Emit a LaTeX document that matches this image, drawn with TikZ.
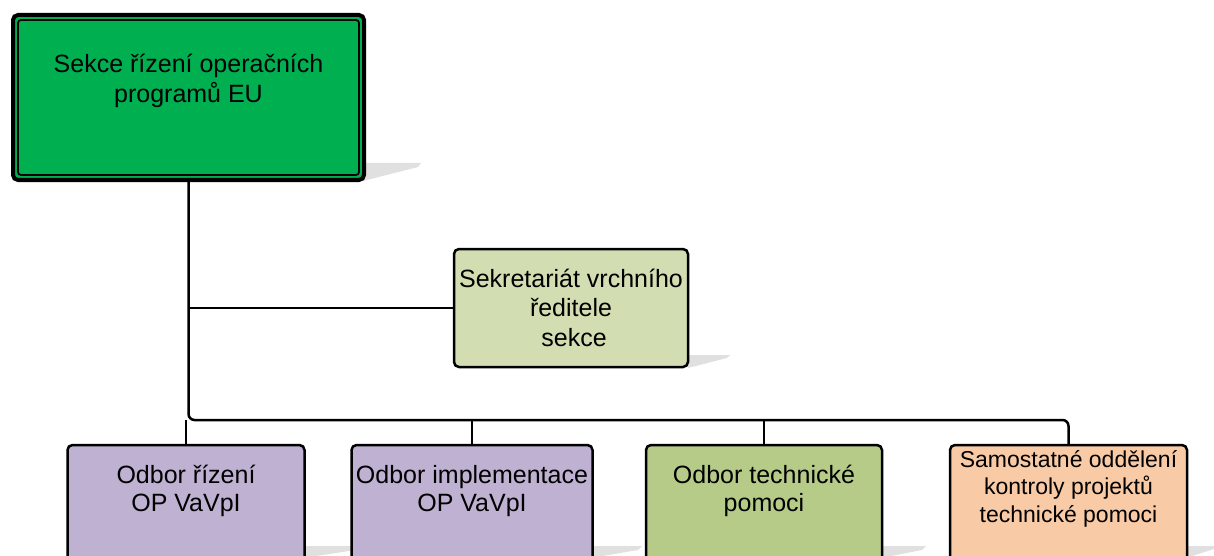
\documentclass[tikz,border=0pt]{standalone}
\usepackage{fontspec}
\setmainfont{Liberation Sans}
\definecolor{topgreen}{HTML}{00B050}
\definecolor{secgreen}{HTML}{D2DEB2}
\definecolor{purp}{HTML}{BFB1D2}
\definecolor{olive}{HTML}{B6CB88}
\definecolor{peach}{HTML}{F9CAA6}
\begin{document}
\begin{tikzpicture}[x=1pt,y=-1pt,
  box/.style={draw=black, line width=2.5pt, rounded corners=5pt, inner sep=0pt, outer sep=0pt},
  txt/.style={align=center, inner sep=0pt, outer sep=0pt, anchor=north},
  fbig/.style={font=\fontsize{25}{29}\selectfont},
  shadowc/.style={fill=black!12, draw=none},
  wire/.style={line width=2.5pt, black},
  drop/.style={line width=2pt, black}]
\useasboundingbox (0,0) rectangle (1214,556);
\clip (0,0) rectangle (1214,556);
% shadows
\fill[shadowc] (363,163) -- (421,163) -- (418,167) -- (363,181) -- cycle;
\fill[shadowc] (688,355) -- (730,355) -- (727,358) -- (688,368) -- cycle;
\fill[shadowc] (303,546) -- (360,546) -- (356,550) -- (303,558) -- cycle;
\fill[shadowc] (591,546) -- (642,546) -- (638,550) -- (591,558) -- cycle;
\fill[shadowc] (881,546) -- (926,546) -- (922,550) -- (881,558) -- cycle;
\fill[shadowc] (1186,546) -- (1214,546) -- (1214,549) -- (1186,558) -- cycle;
% top box
\node[box, fill=topgreen, line width=4pt, minimum width=351pt, minimum height=165pt] (top) at (188.5,97.5) {};
\draw[line width=1.8pt, rounded corners=3pt] ([shift={(5,5)}]top.north west) rectangle ([shift={(-5,-5)}]top.south east);
\node[txt, font=\fontsize{25}{30}\selectfont] (toptxt) at (188.5,53) {\rule{0pt}{20pt}Sekce řízení operačních\\programů EU};
% secretariat
\node[box, fill=secgreen, minimum width=234pt, minimum height=118pt] (sec) at (571,308) {};
\node[txt, font=\fontsize{25}{29.5}\selectfont] (sectxt) at (571,267) {\rule{0pt}{20pt}Sekretariát vrchního\\ředitele\\\hspace*{6pt}sekce};
% bottom boxes
\node[box, fill=purp, minimum width=237pt, minimum height=180pt, anchor=north] (b1) at (186,445) {};
\node[box, fill=purp, minimum width=241pt, minimum height=180pt, anchor=north] (b2) at (472,445) {};
\node[box, fill=olive, minimum width=236pt, minimum height=180pt, anchor=north] (b3) at (764,445) {};
\node[box, fill=peach, minimum width=237pt, minimum height=180pt, anchor=north] (b4) at (1068.5,445) {};
\node[txt, font=\fontsize{25}{28}\selectfont] (b1t) at (186,463) {\rule{0pt}{20pt}Odbor řízení\\OP VaVpI};
\node[txt, font=\fontsize{25}{28}\selectfont] (b2t) at (472,463) {\rule{0pt}{20pt}Odbor implementace\\OP VaVpI};
\node[txt, font=\fontsize{25}{28}\selectfont] (b3t) at (764,463) {\rule{0pt}{20pt}Odbor technické\\pomoci};
\node[txt, font=\fontsize{23}{27.5}\selectfont] (b4t) at (1068.5,447) {\rule{0pt}{20pt}Samostatné oddělení\\kontroly projektů\\technické pomoci};
% connectors
\coordinate (bus) at (0,420);
\draw[wire, rounded corners=6pt] (top.south) -- (top.south |- bus) -- (b4.north |- bus) -- (b4.north);
\draw[drop] (top.south |- sec.west) -- (sec.west);
\draw[drop] (b1.north |- bus) -- (b1.north);
\draw[drop] (b2.north |- bus) -- (b2.north);
\draw[drop] (b3.north |- bus) -- (b3.north);
\end{tikzpicture}
\end{document}
